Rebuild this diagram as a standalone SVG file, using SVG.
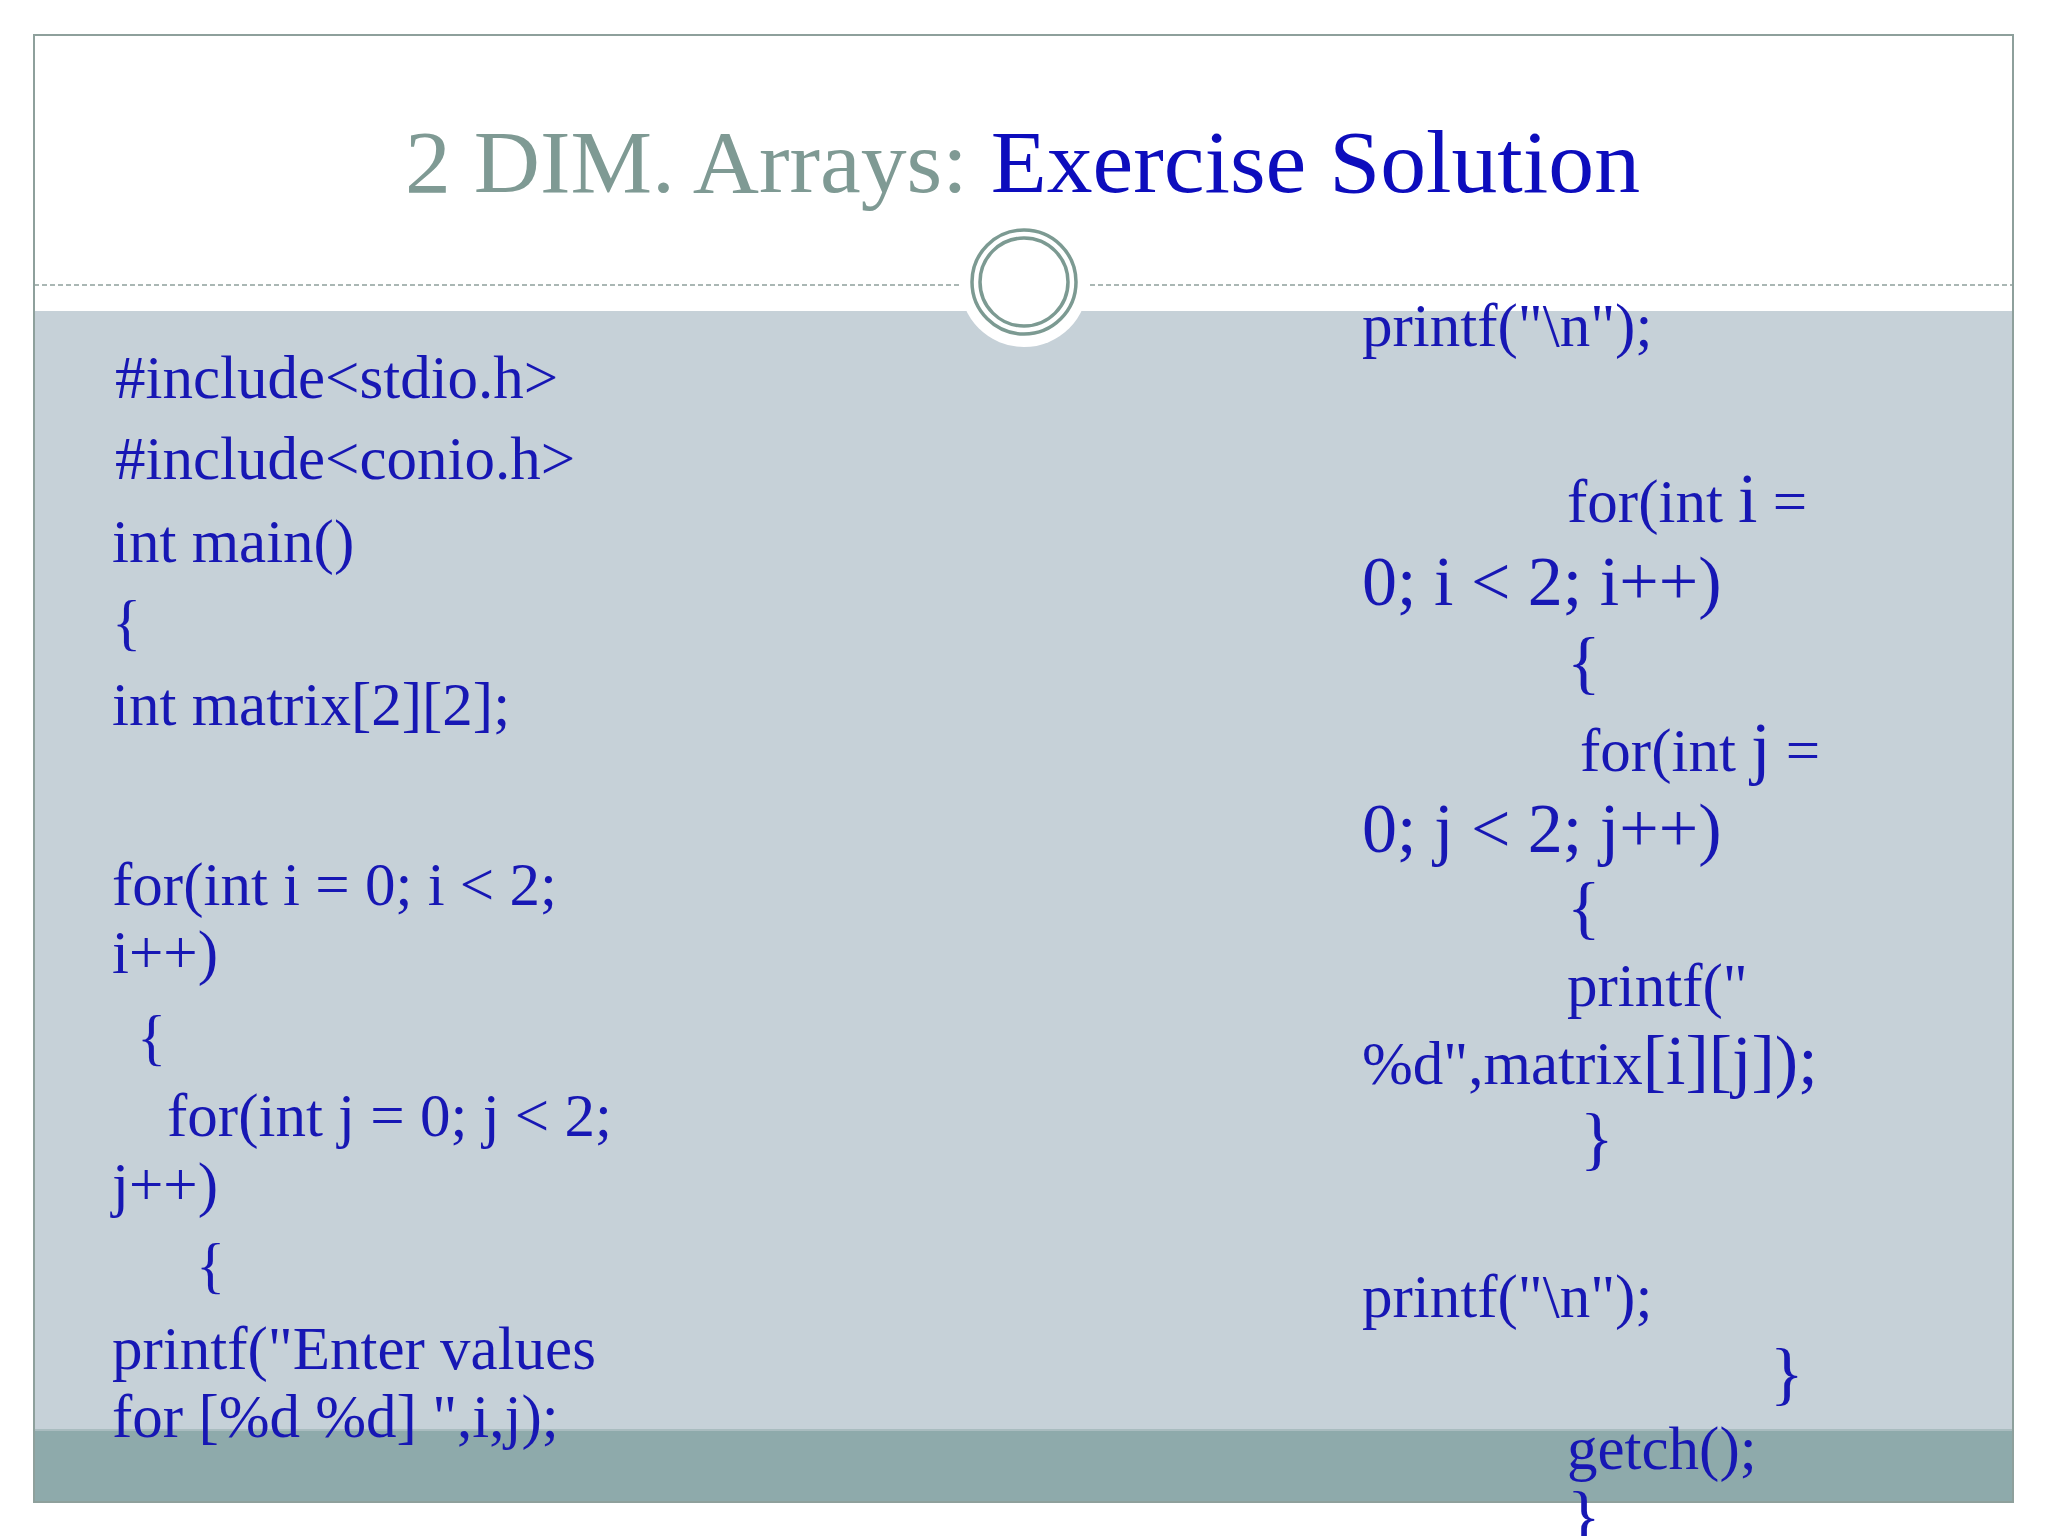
<svg xmlns="http://www.w3.org/2000/svg" width="2048" height="1536" viewBox="0 0 2048 1536">
<style>
.c{font-family:"Liberation Serif","DejaVu Serif",serif;font-size:61px;fill:#1717b4}
.b{font-size:70px}
</style>
<rect width="2048" height="1536" fill="#fff"/>
<g id="frame">
<rect x="34" y="311" width="1979" height="1119" fill="#c6d1d8"/>
<rect x="34" y="1430" width="1979" height="72" fill="#8eaaab"/>
<line x1="34" y1="1430" x2="2013" y2="1430" stroke="#a9bcbf" stroke-width="2"/>
<rect x="34" y="35" width="1979" height="1467" fill="none" stroke="#8ea09c" stroke-width="2"/>
<line x1="34" y1="285" x2="2013" y2="285" stroke="#8ea09c" stroke-width="1.5" stroke-dasharray="5,3"/>
<circle cx="1024" cy="283" r="64" fill="#fff"/>
<circle cx="1024" cy="282" r="52" fill="none" stroke="#7c9a92" stroke-width="3.5"/>
<circle cx="1024" cy="282" r="44" fill="none" stroke="#7c9a92" stroke-width="3.5"/>
</g>
<g id="title">
<text x="405" y="192" font-family="Liberation Serif,serif" font-size="88" textLength="1235" lengthAdjust="spacingAndGlyphs"><tspan fill="#7f9a94">2 DIM. Arrays: </tspan><tspan fill="#0d0dbd">Exercise Solution</tspan></text>
</g>
<g id="left">
<text class="c" x="115" y="398">#include&lt;stdio.h&gt;</text>
<text class="c" x="115" y="479">#include&lt;conio.h&gt;</text>
<text class="c" x="112" y="562">int main()</text>
<text class="c" x="112" y="643">{</text>
<text class="c" x="112" y="725">int matrix[2][2];</text>
<text class="c" x="112" y="905">for(int i = 0; i &lt; 2;</text>
<text class="c" x="112" y="973">i++)</text>
<text class="c" x="137" y="1058">{</text>
<text class="c" x="167" y="1136">for(int j = 0; j &lt; 2;</text>
<text class="c" x="112" y="1205">j++)</text>
<text class="c" x="196" y="1286">{</text>
<text class="c" x="112" y="1369">printf("Enter values</text>
<text class="c" x="112" y="1437">for [%d %d] ",i,j);</text>
</g>
<g id="right">
<text class="c" x="1362" y="346">printf("\n");</text>
<text class="c" x="1567" y="522">for(int <tspan class="b">i</tspan> =</text>
<text class="c b" x="1362" y="605">0; i &lt; 2; i++)</text>
<text class="c b" x="1567" y="686">{</text>
<text class="c" x="1580" y="771">for(int <tspan class="b">j</tspan> =</text>
<text class="c b" x="1362" y="852">0; j &lt; 2; j++)</text>
<text class="c b" x="1567" y="931">{</text>
<text class="c" x="1567" y="1006">printf("</text>
<text class="c" x="1362" y="1084">%d",matrix<tspan class="b">[i][j]);</tspan></text>
<text class="c b" x="1580" y="1162">}</text>
<text class="c" x="1362" y="1317">printf("\n");</text>
<text class="c b" x="1770" y="1397">}</text>
<text class="c" x="1567" y="1469">getch();</text>
<text class="c b" x="1567" y="1540">}</text>
</g>
</svg>
